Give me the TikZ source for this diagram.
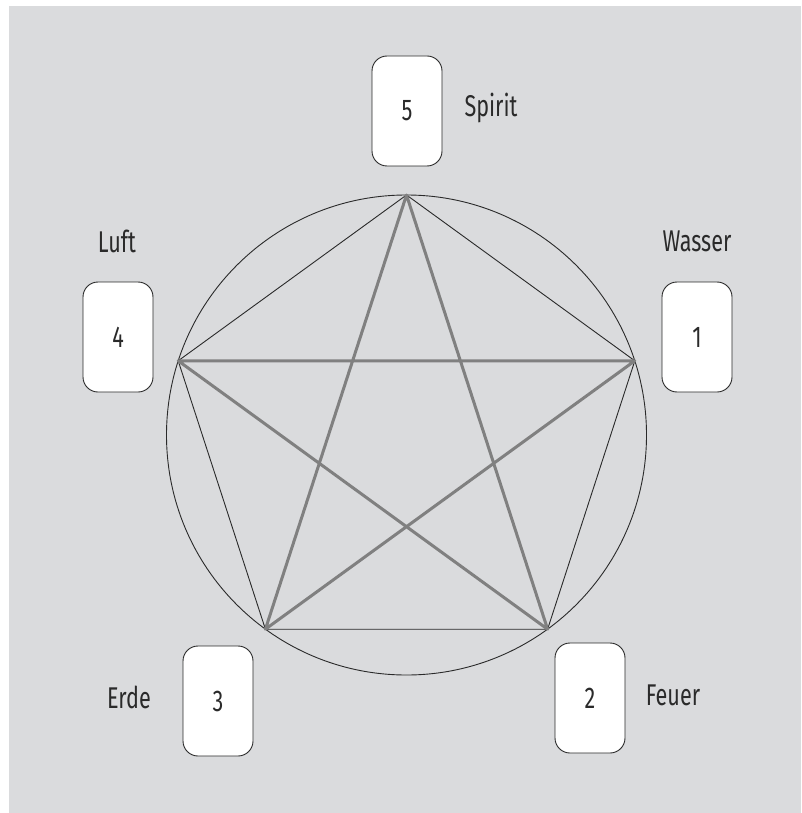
\documentclass[tikz,border=0pt]{standalone}
\usepackage{fontspec}
\setmainfont{Fira Sans}[FakeStretch=0.72]
\definecolor{bg}{HTML}{DADBDD}
\definecolor{ink}{HTML}{2A2A2A}
\definecolor{star}{HTML}{808080}
\tikzset{
  card/.style={draw=ink, line width=0.9pt, fill=white, rounded corners=15pt,
    minimum width=70pt, minimum height=110pt, inner sep=0pt, text=ink, font=\fontsize{30}{32}\selectfont},
  lbl/.style={text=ink, inner sep=0pt, font=\fontsize{30}{32}\selectfont},
  thin/.style={draw=ink, line width=0.9pt},
  starline/.style={draw=star, line width=3pt, line cap=round, line join=round}
}
\begin{document}
\begin{tikzpicture}[x=1pt,y=-1pt]
\useasboundingbox (0,0) rectangle (801,813);
\fill[bg] (9,6) rectangle (801,813);
\coordinate (c) at (406.5,435);
\coordinate (p5) at (406.5,195);
\coordinate (p1) at (634.8,360.8);
\coordinate (p2) at (547.6,629.2);
\coordinate (p3) at (265.4,629.2);
\coordinate (p4) at (178.2,360.8);
\draw[thin] (c) circle (240);
\draw[thin] (p5) -- (p1) -- (p2) -- (p3) -- (p4) -- cycle;
\draw[starline] (p5) -- (p2) -- (p4) -- (p1) -- (p3) -- cycle;
\node[card] (c5) at (407,111) {5};
\node[card] (c4) at (118,337) {4};
\node[card] (c1) at (697,337) {1};
\node[card] (c3) at (218,701) {3};
\node[card] (c2) at (590,698) {2};
\node[lbl] (l5) at (491,108) {Spirit};
\node[lbl] (l4) at (117,241) {Luft};
\node[lbl] (l1) at (697,241) {Wasser};
\node[lbl] (l3) at (129,697) {Erde};
\node[lbl] (l2) at (673,695) {Feuer};
\end{tikzpicture}
\end{document}
